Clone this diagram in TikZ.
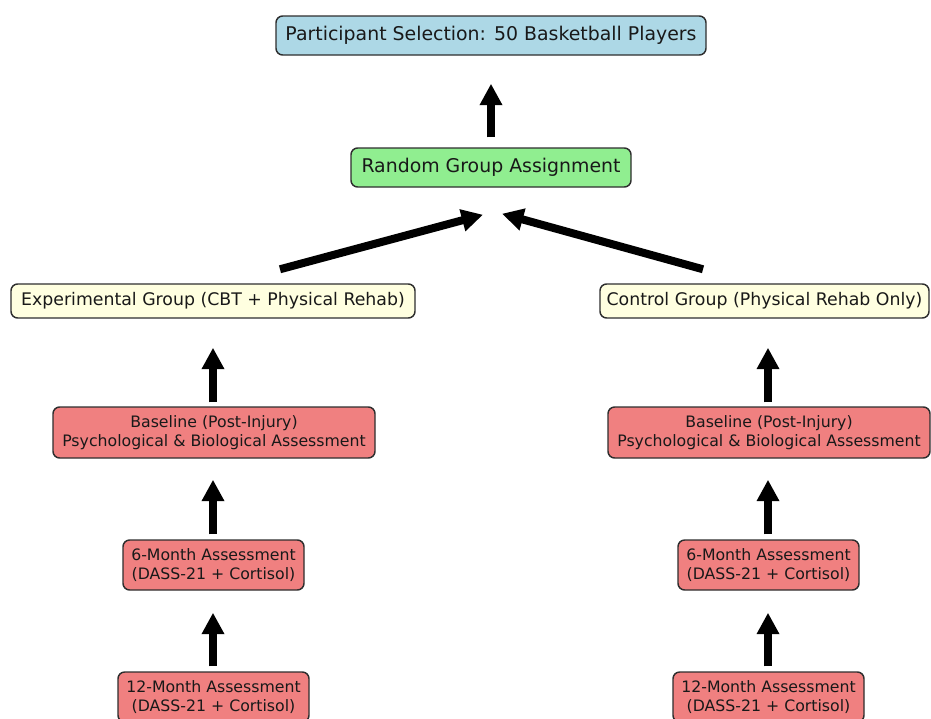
\documentclass[tikz,border=0pt]{standalone}
\usepackage{fontspec}
\setmainfont{DejaVu Sans}
\usetikzlibrary{arrows.meta}
\definecolor{boxblue}{HTML}{ADD8E6}
\definecolor{boxgreen}{HTML}{90EE90}
\definecolor{boxyellow}{HTML}{FFFFE0}
\definecolor{boxcoral}{HTML}{F08080}
\definecolor{edgegray}{HTML}{2E2E2E}
\newdimen\pxu
\pxu=0.75pt
\begin{document}
\begin{tikzpicture}[x=0.75pt,y=-0.75pt,
  box/.style={draw=edgegray, line width=1.1pt, rounded corners=5pt,
    align=center, inner sep=0pt, text=black!90},
  bigfont/.style={font=\fontsize{14.17pt}{17pt}\selectfont},
  midfont/.style={font=\fontsize{13pt}{15.6pt}\selectfont},
  smallfont/.style={font=\fontsize{11.8pt}{14.25pt}\selectfont},
  fat/.style={-{Triangle[width=16pt,length=16pt]}, line width=6pt, black}
]
\useasboundingbox (0,0) rectangle (931,718);

% top of the flow
\node[box, bigfont, fill=boxblue, minimum width=430\pxu, minimum height=39\pxu]
  (sel) at (491,35.5) {Participant Selection: 50 Basketball Players};
\node[box, bigfont, fill=boxgreen, minimum width=280\pxu, minimum height=39\pxu]
  (rand) at (491,167.5) {Random Group Assignment};

% the two groups
\node[box, midfont, fill=boxyellow, minimum width=404\pxu, minimum height=34\pxu]
  (exp) at (213,301) {Experimental Group (CBT + Physical Rehab)};
\node[box, midfont, fill=boxyellow, minimum width=329\pxu, minimum height=34\pxu]
  (ctrl) at (764.5,301) {Control Group (Physical Rehab Only)};

% assessments, experimental column
\node[box, smallfont, fill=boxcoral, minimum width=322\pxu, minimum height=51\pxu]
  (baseL) at (214,432.5) {Baseline (Post-Injury)\\Psychological \& Biological Assessment};
\node[box, smallfont, fill=boxcoral, minimum width=181\pxu, minimum height=50\pxu]
  (sixL) at (213.5,565) {6-Month Assessment\\(DASS-21 + Cortisol)};
\node[box, smallfont, fill=boxcoral, minimum width=191\pxu, minimum height=50\pxu]
  (twelveL) at (213.5,697) {12-Month Assessment\\(DASS-21 + Cortisol)};

% assessments, control column
\node[box, smallfont, fill=boxcoral, minimum width=322\pxu, minimum height=51\pxu]
  (baseR) at (769,432.5) {Baseline (Post-Injury)\\Psychological \& Biological Assessment};
\node[box, smallfont, fill=boxcoral, minimum width=181\pxu, minimum height=50\pxu]
  (sixR) at (768.5,565) {6-Month Assessment\\(DASS-21 + Cortisol)};
\node[box, smallfont, fill=boxcoral, minimum width=191\pxu, minimum height=50\pxu]
  (twelveR) at (768.5,697) {12-Month Assessment\\(DASS-21 + Cortisol)};

% arrows
\draw[fat] ([shift={(0,-10)}]rand.north) -- ([shift={(0,28)}]sel.south);
\draw[fat] ([shift={(67,-14)}]exp.north) -- ([shift={(-8,27)}]rand.south);
\draw[fat] ([shift={(-61.5,-14)}]ctrl.north) -- ([shift={(11,26)}]rand.south);

\draw[fat] ([shift={(-1,-4)}]baseL.north) -- ([shift={(0,29)}]exp.south);
\draw[fat] ([shift={(-0.5,-5)}]sixL.north) -- ([shift={(-1,21)}]baseL.south);
\draw[fat] ([shift={(-0.5,-5)}]twelveL.north) -- ([shift={(-0.5,22)}]sixL.south);

\draw[fat] ([shift={(-1,-4)}]baseR.north) -- ([shift={(3.5,29)}]ctrl.south);
\draw[fat] ([shift={(-0.5,-5)}]sixR.north) -- ([shift={(-1,21)}]baseR.south);
\draw[fat] ([shift={(-0.5,-5)}]twelveR.north) -- ([shift={(-0.5,22)}]sixR.south);
\end{tikzpicture}
\end{document}
